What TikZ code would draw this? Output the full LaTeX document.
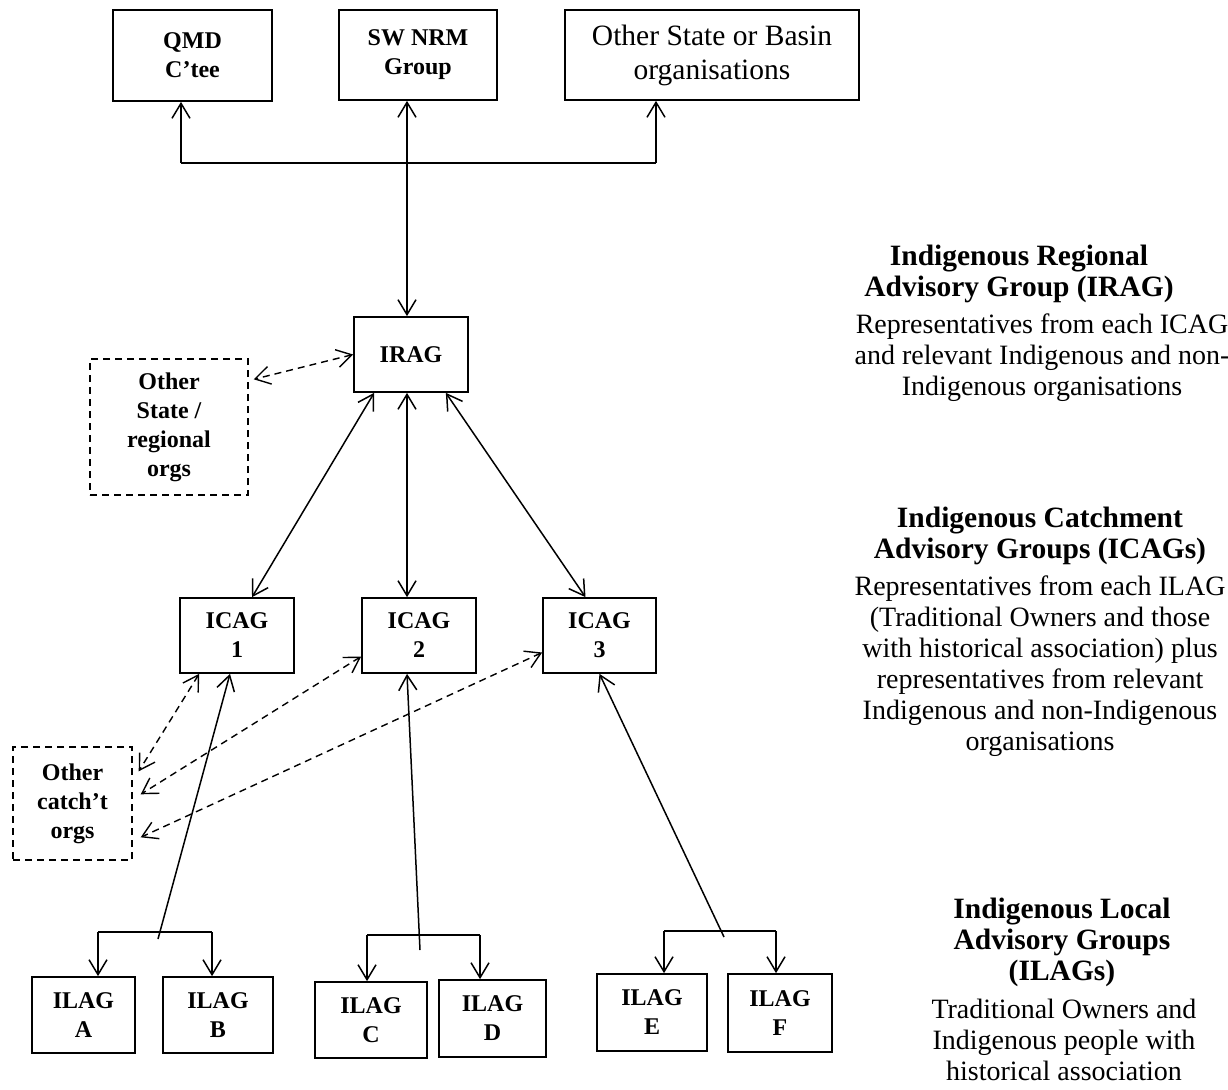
\documentclass[tikz,border=0pt]{standalone}
\usepackage{fontspec}
\setmainfont{Liberation Serif}
\usetikzlibrary{positioning,arrows.meta}
\newcommand{\boxfont}{\fontsize{24}{29}\selectfont\bfseries}
\newcommand{\basinfont}{\fontsize{29.5}{34}\selectfont}
\newcommand{\headfont}{\fontsize{29.5}{31}\selectfont\bfseries}
\newcommand{\notefont}{\fontsize{28}{31}\selectfont}

\begin{document}
\begin{tikzpicture}[x=1pt,y=-1pt, every node/.style={align=center, inner sep=0pt}]
\tikzset{
  org/.style={draw, line width=1.7pt, font=\boxfont},
  extorg/.style={draw, line width=1.4pt, dash pattern=on 7pt off 5pt, font=\boxfont},
  link/.style={line width=1.5pt},
  oneway/.style={-{Straight Barb[length=15pt,width=18pt]}, line width=1.5pt},
  twoway/.style={{Straight Barb[length=15pt,width=18pt]}-{Straight Barb[length=15pt,width=18pt]}, line width=1.5pt},
  peer/.style={twoway, line width=1.4pt, dash pattern=on 7pt off 5pt},
  levelhead/.style={font=\headfont, anchor=north},
  leveltext/.style={font=\notefont, anchor=north}
}
\useasboundingbox (0,0) rectangle (1228,1089);

  % top level organisations
  \node[org, minimum width=159pt, minimum height=91pt] (qmd) at (192.5,55.5) {QMD\\C’tee};
  \node[org, minimum width=158pt, minimum height=90pt] (swnrm) at (418,55) {SW NRM\\Group};
  \node[org, font=\basinfont, minimum width=294pt, minimum height=90pt] (basin) at (712,55)
    {Other State or Basin\\organisations};

  \node[org, minimum width=114pt, minimum height=75pt] (irag) at (411,354.5) {IRAG};
  \node[extorg, minimum width=158pt, minimum height=136pt] (stateorgs) at (169,427)
    {Other\\State /\\regional\\orgs};

  \node[org, minimum width=114pt, minimum height=75pt] (icag1) at (237,635.5) {ICAG\\1};
  \node[org, minimum width=114pt, minimum height=75pt] (icag2) at (419,635.5) {ICAG\\2};
  \node[org, minimum width=113pt, minimum height=75pt] (icag3) at (599.5,635.5) {ICAG\\3};
  \node[extorg, minimum width=119pt, minimum height=113pt] (catchorgs) at (72.5,803.5)
    {Other\\catch’t\\orgs};

  \node[org, minimum width=103pt, minimum height=76pt] (ilagA) at (83.5,1015) {ILAG\\A};
  \node[org, minimum width=110pt, minimum height=76pt] (ilagB) at (218,1015) {ILAG\\B};
  \node[org, minimum width=112pt, minimum height=76pt] (ilagC) at (371,1020) {ILAG\\C};
  \node[org, minimum width=107pt, minimum height=77pt] (ilagD) at (492.5,1018.5) {ILAG\\D};
  \node[org, minimum width=110pt, minimum height=77pt] (ilagE) at (652,1012.5) {ILAG\\E};
  \node[org, minimum width=104pt, minimum height=78pt] (ilagF) at (780,1013) {ILAG\\F};

  % descriptions
  \node[levelhead] (iraghead) at (1019,245) {Indigenous Regional\\Advisory Group (IRAG)};
  \node[leveltext] (iragtext) at (1042,314)
    {Representatives from each ICAG\\and relevant Indigenous and non-\\Indigenous organisations};
  \node[levelhead] (icaghead) at (1040,507) {Indigenous Catchment\\Advisory Groups (ICAGs)};
  \node[leveltext] (icagtext) at (1040,576)
    {Representatives from each ILAG\\(Traditional Owners and those\\with historical association) plus\\representatives from relevant\\Indigenous and non-Indigenous\\organisations};
  \node[levelhead] (ilaghead) at (1062,898) {Indigenous Local\\Advisory Groups\\(ILAGs)};
  \node[leveltext] (ilagtext) at (1064,999)
    {Traditional Owners and\\Indigenous people with\\historical association};

  % IRAG up to the top level
  \coordinate (topL) at (181,163);
  \coordinate (topR) at (656,163);
  \draw[link] (topL) -- (topR);
  \draw[oneway] (topL) -- (topL |- qmd.south);
  \draw[oneway] (topR) -- (topR |- basin.south);
  \draw[twoway] ([xshift=-4pt]irag.north) -- ([xshift=-4pt]irag.north |- swnrm.south);

  % IRAG and ICAGs
  \draw[twoway] ([xshift=21pt]irag.south west) -- ([xshift=15pt]icag1.north);
  \draw[twoway] ([xshift=-4pt]irag.south) -- ([xshift=-4pt]irag.south |- icag2.north);
  \draw[twoway] ([xshift=-23pt]irag.south east) -- ([xshift=-14pt]icag3.north);

  \draw[peer] (irag.west) -- ([xshift=5pt,yshift=-21pt]stateorgs.north east);
  \draw[peer] ([xshift=20pt]icag1.south west) -- ([xshift=6pt,yshift=-25pt]catchorgs.north east);
  \draw[peer] ([yshift=-21pt]icag2.west) -- ([xshift=8pt,yshift=-48pt]catchorgs.north east);
  \draw[peer] ([yshift=-17pt]icag3.west) -- ([xshift=8pt,yshift=-91pt]catchorgs.north east);

  % ILAG branches
  \coordinate (abL) at (98,932);
  \coordinate (abR) at (212,932);
  \coordinate (ab) at (158,939);
  \draw[link] (abL) -- (abR);
  \draw[oneway] (abL) -- (abL |- ilagA.north);
  \draw[oneway] (abR) -- (abR |- ilagB.north);
  \draw[oneway] (ab) -- ([xshift=-7pt]icag1.south);

  \coordinate (cdL) at (367,935);
  \coordinate (cdR) at (480,935);
  \coordinate (cd) at (420,950);
  \draw[link] (cdL) -- (cdR);
  \draw[oneway] (cdL) -- (cdL |- ilagC.north);
  \draw[oneway] (cdR) -- (cdR |- ilagD.north);
  \draw[oneway] (cd) -- ([xshift=-12pt]icag2.south);

  \coordinate (efL) at (664,931);
  \coordinate (efR) at (776,931);
  \coordinate (ef) at (724,937);
  \draw[link] (efL) -- (efR);
  \draw[oneway] (efL) -- (efL |- ilagE.north);
  \draw[oneway] (efR) -- (efR |- ilagF.north);
  \draw[oneway] (ef) -- (icag3.south);
\end{tikzpicture}
\end{document}
